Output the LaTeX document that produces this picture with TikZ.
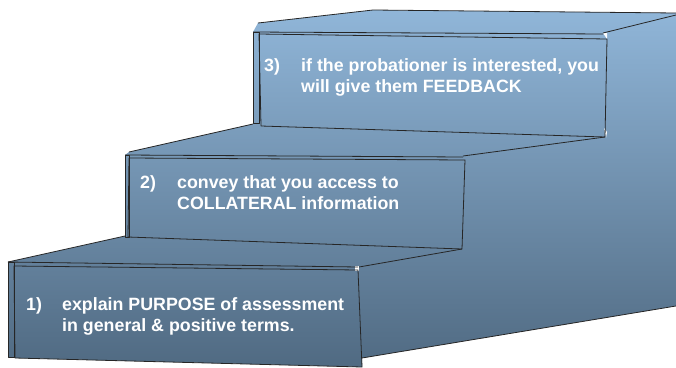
\documentclass[tikz,border=0pt]{standalone}
\usepackage{fontspec}
\setmainfont{Liberation Sans}
\definecolor{stairtop}{RGB}{146,184,219}
\definecolor{stairbot}{RGB}{80,106,130}
\tikzset{
  edge/.style={draw=black!85, line width=0.8pt, line join=round},
  numlbl/.style={text=white, font=\fontsize{17.8}{21}\selectfont\bfseries, anchor=base west, inner sep=0pt},
  txtlbl/.style={text=white, font=\fontsize{17.8}{21}\selectfont\bfseries, anchor=base west, align=left, inner sep=0pt},
}
\begin{document}
\begin{tikzpicture}[x=1pt,y=-1pt]
\useasboundingbox (0,0) rectangle (676,367);
% silhouette with global gradient
\begin{scope}
\clip (8,262) -- (125,236) -- (125,155) -- (129,152) -- (253,124) -- (253,32) -- (258,23) -- (373,10) -- (676,13)
  -- (676,306) -- (362,358) -- (362,367) -- (15,358) -- (8,357) -- cycle;
\shade[top color=stairtop, bottom color=stairbot] (0,0) rectangle (676,367);
\end{scope}
% small white corners
\fill[white] (603,33) -- (607,33) -- (607,39) -- cycle;
\fill[white] (355,266) rectangle (359,271);
\fill[white] (604,128) -- (607,132) -- (606,138) -- cycle;
% step 3
\draw[edge] (258,23) -- (373,10) -- (676,13);
\draw[edge] (603,33) -- (676,15);
\draw[edge] (253,32) -- (603,34);
\draw[edge] (253,32) rectangle (259,123);
\draw[edge] (259,34) -- (607,39) -- (605,137) -- (261,126) -- cycle;
\draw[edge] (605,137) -- (463,156);
% step 2
\draw[edge] (129,152) -- (253,124);
\draw[edge] (125,155) -- (463,157);
\draw[edge] (125,155) rectangle (129,237);
\draw[edge] (129,158) -- (465,160) -- (462,249) -- (128,237) -- cycle;
\draw[edge] (462,249) -- (359,267);
% step 1
\draw[edge] (8,262) -- (125,236);
\draw[edge] (8,262) -- (358,267);
\draw[edge] (8,262) rectangle (14,357);
\draw[edge] (14,266) -- (358,270) -- (362,367) -- (15,358) -- cycle;
\draw[edge] (362,358) -- (676,306);
% labels
\node[numlbl] (n1) at (26,310) {1)};
\node[txtlbl] (t1) at (62,331) {explain PURPOSE of assessment\\in general \& positive terms.};
\node[numlbl] (n2) at (140,188) {2)};
\node[txtlbl] (t2) at (177,209) {convey that you access to\\COLLATERAL information};
\node[numlbl] (n3) at (264,71) {3)};
\node[txtlbl] (t3) at (301,92) {if the probationer is interested, you\\will give them FEEDBACK};
\end{tikzpicture}
\end{document}
